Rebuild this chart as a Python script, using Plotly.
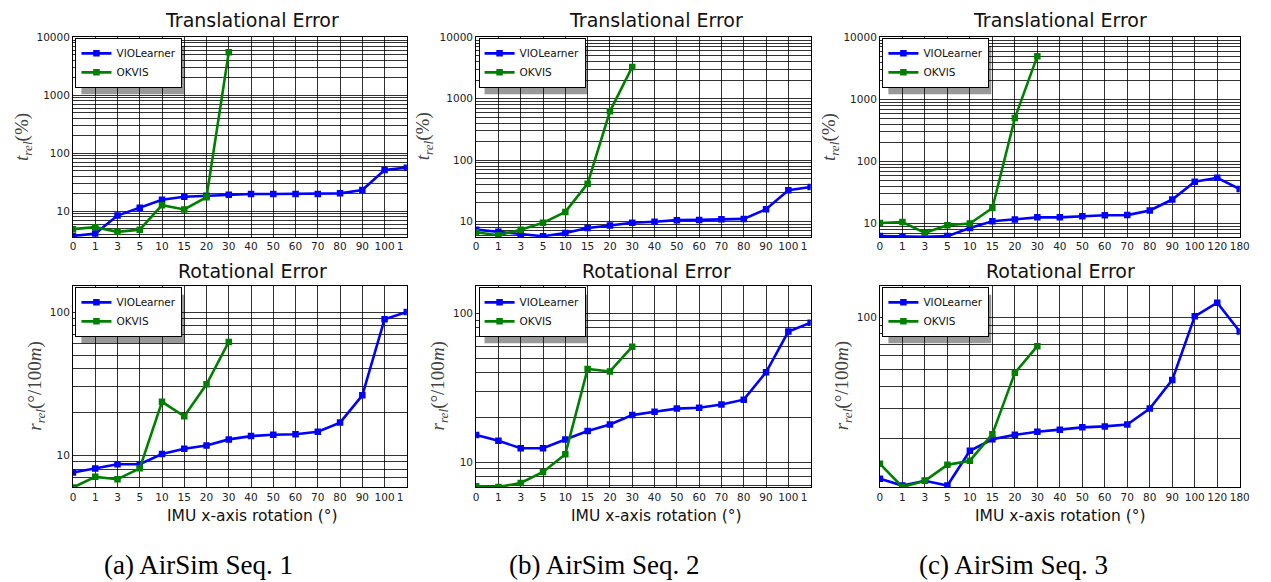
import math
import plotly.graph_objects as go

# Rotation applied to the IMU x-axis (categorical, evenly spaced)
rotation_labels = ["0", "1", "3", "5", "10", "15", "20", "30", "40", "50",
                   "60", "70", "80", "90", "100", "120", "180"]

# Translational error t_rel (%)
trans_vio_seq1 = [3.74, 4.1, 8.4, 11.5, 15.8, 17.8, 18.5, 19.3, 19.8, 19.8, 19.8, 19.8, 20.3, 23.2, 51.4, 56.4]
trans_okvis_seq1 = [4.9, 5.3, 4.4, 4.8, 12.7, 10.7, 17.4, 5550]
trans_vio_seq2 = [7.35, 6.8, 6.26, 5.74, 6.5, 7.8, 8.6, 9.5, 9.9, 10.5, 10.6, 10.9, 11.0, 15.8, 32.3, 36.5]
trans_okvis_seq2 = [6.66, 5.96, 7.35, 9.5, 14.3, 41.3, 624, 3300]
trans_vio_seq3 = [6.28, 6.13, 6.13, 6.28, 8.5, 10.9, 11.6, 12.6, 12.6, 13.1, 13.6, 13.7, 16.3, 24.4, 47.2, 54.6, 36.0]
trans_okvis_seq3 = [10.2, 10.6, 7.1, 9.4, 10.0, 17.8, 500, 4980]

# Rotational error r_rel (deg / 100 m)
rot_vio_seq1 = [7.57, 8.07, 8.65, 8.65, 10.2, 11.1, 11.7, 12.9, 13.6, 13.9, 14.0, 14.6, 16.9, 26.2, 89, 100]
rot_okvis_seq1 = [5.95, 7.06, 6.8, 8.1, 23.6, 18.7, 31.3, 61.8]
rot_vio_seq2 = [15.2, 13.9, 12.4, 12.4, 14.2, 16.2, 17.9, 20.7, 21.8, 22.9, 23.2, 24.4, 26.3, 40.2, 75.5, 86.7]
rot_okvis_seq2 = [6.89, 6.8, 7.24, 8.58, 11.3, 42.3, 40.7, 59.7]
rot_vio_seq3 = [11.8, 10.8, 11.5, 10.8, 17.1, 19.9, 21.1, 22.0, 22.6, 23.3, 23.6, 24.2, 29.9, 43.6, 101, 121, 82.6]
rot_okvis_seq3 = [14.4, 10.6, 11.5, 14.2, 15.0, 21.3, 47.9, 68.1]

captions = ["(a) AirSim Seq. 1", "(b) AirSim Seq. 2", "(c) AirSim Seq. 3"]

W, H = 1271, 582
BLUE, GREEN = "#0000ff", "#008000"
SANS = "DejaVu Sans"
GRID = "rgba(0,0,0,0.8)"


def px(v):
    return v / W


def py(v):
    return 1 - v / H


# panel geometry in pixels: (left, right) per column, (top, bottom) per row
cols = [(70.7, 408.0), (478.0, 816.0), (886.0, 1249.5)]
rows = [(31.7, 233.3), (283.3, 486.0)]
title_cx = [252, 660, 1068]
xmax_idx = [15, 15, 16]

panels = [
    (0, 0, trans_vio_seq1, trans_okvis_seq1, (3.6, 10000)),
    (0, 1, trans_vio_seq2, trans_okvis_seq2, (5.6, 10000)),
    (0, 2, trans_vio_seq3, trans_okvis_seq3, (6.1, 10000)),
    (1, 0, rot_vio_seq1, rot_okvis_seq1, (6.0, 151)),
    (1, 1, rot_vio_seq2, rot_okvis_seq2, (6.8, 152)),
    (1, 2, rot_vio_seq3, rot_okvis_seq3, (10.6, 150)),
]

fig = go.Figure()
layout = dict(
    width=W, height=H, autosize=False,
    margin=dict(l=0, r=0, t=0, b=0),
    paper_bgcolor="white", plot_bgcolor="white",
    showlegend=True,
    shapes=[], annotations=[],
)

for k, (r, c, vio, okvis, (ylo, yhi)) in enumerate(panels):
    n = k + 1
    xa = "x" if n == 1 else f"x{n}"
    ya = "y" if n == 1 else f"y{n}"
    lg = "legend" if n == 1 else f"legend{n}"
    idx = list(range(len(rotation_labels)))

    fig.add_trace(go.Scatter(
        x=idx[:len(vio)], y=vio, name="VIOLearner", xaxis=xa, yaxis=ya, legend=lg,
        mode="lines+markers", line=dict(color=BLUE, width=2.6),
        marker=dict(symbol="square", size=6.5, color=BLUE)))
    fig.add_trace(go.Scatter(
        x=idx[:len(okvis)], y=okvis, name="OKVIS", xaxis=xa, yaxis=ya, legend=lg,
        mode="lines+markers", line=dict(color=GREEN, width=2.6),
        marker=dict(symbol="square", size=6.5, color=GREEN)))

    x0, x1 = cols[c]
    yt, yb = rows[r]

    # tick labels: the last label of the first two columns is cut at the panel edge
    ticktext = list(rotation_labels[:xmax_idx[c] + 1])
    if xmax_idx[c] == 15:
        ticktext[-1] = "1&nbsp;&nbsp;&nbsp;&nbsp;"

    axis_common = dict(
        showline=True, linecolor="black", linewidth=1, mirror=True,
        showgrid=True, gridcolor=GRID, gridwidth=1,
        zeroline=False, ticks="",
        tickfont=dict(family=SANS, size=10.5, color="#222"),
    )
    layout["xaxis" if n == 1 else f"xaxis{n}"] = dict(
        axis_common, domain=[px(x0), px(x1)], anchor=ya,
        range=[0, xmax_idx[c]], tickmode="array",
        tickvals=list(range(xmax_idx[c] + 1)), ticktext=ticktext,
    )

    # log grid: labelled decades plus minor lines at 2..9 x decade
    major, minor = [], []
    for e in range(0, 5):
        for m in range(1, 10):
            v = m * 10 ** e
            if ylo <= v <= yhi * 1.0001:
                (major if m == 1 else minor).append(v)
    layout["yaxis" if n == 1 else f"yaxis{n}"] = dict(
        axis_common, domain=[py(yb), py(yt)], anchor=xa, type="log",
        range=[math.log10(ylo), math.log10(yhi)],
        tickmode="array", tickvals=major, ticktext=[str(v) for v in major],
        minor=dict(tickmode="array", tickvals=minor, showgrid=True,
                   gridcolor=GRID, gridwidth=1, ticks=""),
    )

    # legend box with a soft drop shadow
    lx, ly = x0 + 2.5, yt + 0.5
    layout[lg] = dict(
        x=px(lx), y=py(ly), xref="paper", yref="paper",
        xanchor="left", yanchor="top",
        bgcolor="white", bordercolor="black", borderwidth=1,
        font=dict(family=SANS, size=10.5, color="#111"),
        itemwidth=30, tracegroupgap=0,
    )
    layout["shapes"].append(dict(
        type="rect", xref="paper", yref="paper", layer="above",
        x0=px(lx + 6), x1=px(lx + 6 + 104), y0=py(ly + 8), y1=py(ly + 8 + 49),
        fillcolor="rgba(0,0,0,0.4)", line=dict(width=0)))

    # panel title
    layout["annotations"].append(dict(
        text="Translational Error" if r == 0 else "Rotational Error",
        x=px(title_cx[c]), y=py(14.5 if r == 0 else 268),
        xref="paper", yref="paper", xanchor="center", yanchor="middle",
        showarrow=False, font=dict(family=SANS, size=19, color="#111")))

# y axis titles
ylab_t_x = [19.5, 425, 835]
ylab_r_x = [33, 441, 849]
for c in range(3):
    layout["annotations"].append(dict(
        text="<i>t</i><sub><i>rel</i></sub>(%)", textangle=-90,
        x=px(ylab_t_x[c]), y=py(132), xref="paper", yref="paper",
        xanchor="center", yanchor="middle", showarrow=False,
        font=dict(family="Liberation Serif", size=19, color="#444")))
    layout["annotations"].append(dict(
        text="<i>r</i><sub><i>rel</i></sub>(°/100<i>m</i>)", textangle=-90,
        x=px(ylab_r_x[c]), y=py(384), xref="paper", yref="paper",
        xanchor="center", yanchor="middle", showarrow=False,
        font=dict(family="Liberation Serif", size=19, color="#444")))
    # x axis title
    layout["annotations"].append(dict(
        text="IMU x-axis rotation (°)",
        x=px(title_cx[c]), y=py(515), xref="paper", yref="paper",
        xanchor="center", yanchor="middle", showarrow=False,
        font=dict(family=SANS, size=15.5, color="#111")))

# sub-figure captions
cap_cx = [198, 608, 1021]
for c in range(3):
    layout["annotations"].append(dict(
        text=captions[c], x=px(cap_cx[c]), y=py(565), xref="paper", yref="paper",
        xanchor="center", yanchor="middle", showarrow=False,
        font=dict(family="Liberation Serif", size=27, color="black")))

fig.update_layout(**layout)
fig.write_html("out.html")
